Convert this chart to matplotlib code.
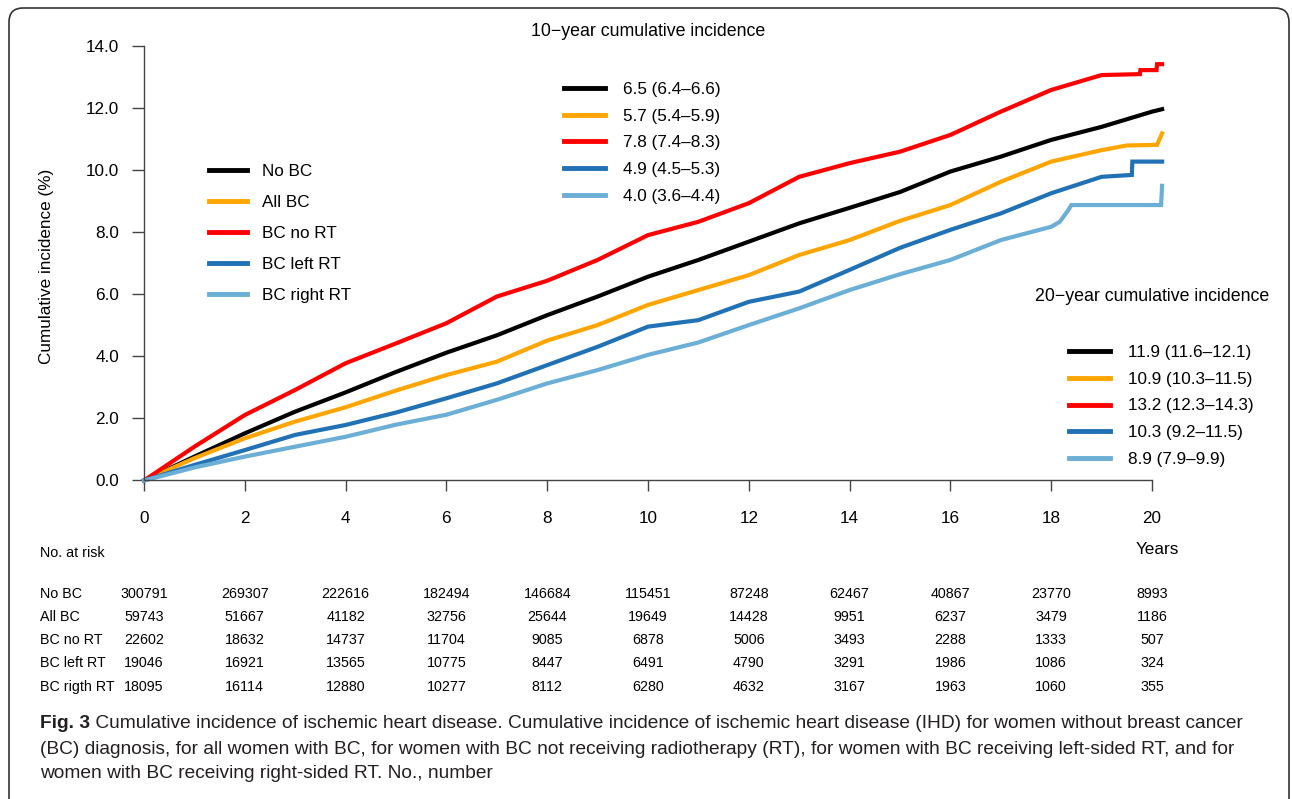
import matplotlib
matplotlib.use('agg')
import matplotlib.pyplot as plt
import matplotlib.transforms as mtransforms
from matplotlib.patches import FancyBboxPatch
from matplotlib import font_manager

plt.rcParams['font.family'] = ['Liberation Sans', 'DejaVu Sans']

W, H = 1292, 799

# ---- data ----
groups = ['No BC', 'All BC', 'BC no RT', 'BC left RT', 'BC right RT']
colors = ['black', '#ffa500', '#ff0000', '#2171b5', '#6baed6']
ci10 = ['6.5 (6.4\u20136.6)', '5.7 (5.4\u20135.9)', '7.8 (7.4\u20138.3)',
        '4.9 (4.5\u20135.3)', '4.0 (3.6\u20134.4)']
ci20 = ['11.9 (11.6\u201312.1)', '10.9 (10.3\u201311.5)', '13.2 (12.3\u201314.3)',
        '10.3 (9.2\u201311.5)', '8.9 (7.9\u20139.9)']

nobc_x = [0, 1, 2, 3, 4, 5, 6, 7, 8, 9, 10, 11, 12, 13, 14, 15, 16, 17, 18, 19, 20, 20.2]
nobc_y = [0, 0.77, 1.52, 2.22, 2.84, 3.5, 4.12, 4.68, 5.33, 5.93, 6.57, 7.11, 7.7,
          8.29, 8.79, 9.3, 9.96, 10.44, 10.98, 11.4, 11.89, 11.97]

allbc_x = [0, 1, 2, 3, 4, 5, 6, 7, 8, 9, 10, 11, 12, 13, 14, 15, 16, 17, 18, 19, 19.5, 20.1, 20.2]
allbc_y = [0, 0.72, 1.36, 1.9, 2.36, 2.9, 3.4, 3.83, 4.51, 5.01, 5.66, 6.14, 6.62,
           7.27, 7.75, 8.37, 8.88, 9.63, 10.28, 10.65, 10.8, 10.82, 11.19]

nort_x = [0, 1, 2, 3, 4, 5, 6, 7, 8, 9, 10, 11, 12, 13, 14, 15, 16, 17, 18, 19,
          19.76, 19.77, 20.09, 20.1, 20.2]
nort_y = [0, 1.09, 2.11, 2.92, 3.78, 4.42, 5.07, 5.93, 6.44, 7.11, 7.91, 8.34, 8.94,
          9.79, 10.23, 10.6, 11.14, 11.89, 12.59, 13.07, 13.1, 13.23, 13.23, 13.42, 13.42]

left_x = [0, 1, 2, 3, 4, 5, 6, 7, 8, 9, 10, 11, 12, 13, 14, 15, 16, 17, 18, 19,
          19.6, 19.61, 20.2]
left_y = [0, 0.5, 0.98, 1.47, 1.79, 2.19, 2.65, 3.13, 3.72, 4.31, 4.96, 5.17, 5.76,
          6.09, 6.79, 7.5, 8.08, 8.61, 9.26, 9.79, 9.85, 10.28, 10.28]

right_x = [0, 1, 2, 3, 4, 5, 6, 7, 8, 9, 10, 11, 12, 13, 14, 15, 16, 17, 18, 18.17,
           18.34, 18.4, 20.18, 20.2]
right_y = [0, 0.42, 0.77, 1.09, 1.41, 1.8, 2.12, 2.6, 3.13, 3.56, 4.05, 4.45, 5.01,
           5.55, 6.14, 6.65, 7.11, 7.75, 8.18, 8.34, 8.72, 8.88, 8.88, 9.5]

risk_years = [0, 2, 4, 6, 8, 10, 12, 14, 16, 18, 20]
risk_labels = ['No BC', 'All BC', 'BC no RT', 'BC left RT', 'BC rigth RT']
risk_nobc = [300791, 269307, 222616, 182494, 146684, 115451, 87248, 62467, 40867, 23770, 8993]
risk_allbc = [59743, 51667, 41182, 32756, 25644, 19649, 14428, 9951, 6237, 3479, 1186]
risk_nort = [22602, 18632, 14737, 11704, 9085, 6878, 5006, 3493, 2288, 1333, 507]
risk_left = [19046, 16921, 13565, 10775, 8447, 6491, 4790, 3291, 1986, 1086, 324]
risk_right = [18095, 16114, 12880, 10277, 8112, 6280, 4632, 3167, 1963, 1060, 355]

caption_bold = 'Fig. 3'
caption_lines = [
    ' Cumulative incidence of ischemic heart disease. Cumulative incidence of ischemic heart disease (IHD) for women without breast cancer',
    '(BC) diagnosis, for all women with BC, for women with BC not receiving radiotherapy (RT), for women with BC receiving left-sided RT, and for',
    'women with BC receiving right-sided RT. No., number',
]


def fx(px):
    return px / W


def fy(py):
    return 1 - py / H


fig = plt.figure(figsize=(W / 100, H / 100), dpi=100)

# outer rounded frame
frame = FancyBboxPatch((9, -30), 1280, 821, boxstyle='round,pad=0,rounding_size=14',
                       transform=mtransforms.IdentityTransform(), fill=False,
                       edgecolor='#333333', linewidth=1.2)
fig.patches.append(frame)

ax = fig.add_axes([fx(144), fy(480.5), 50.4 * 21 / W, (480.5 - 30.7) / H])
ax.set_xlim(0, 21)
ax.set_ylim(0, 14.5)

series = [(nobc_x, nobc_y), (allbc_x, allbc_y), (nort_x, nort_y),
          (left_x, left_y), (right_x, right_y)]
handles = []
for (xs, ys), c in zip(series, colors):
    ln, = ax.plot(xs, ys, color=c, lw=3, solid_joinstyle='miter', clip_on=False)
    handles.append(ln)

for s in ['top', 'right']:
    ax.spines[s].set_visible(False)
ax.spines['left'].set_bounds(0, 14)
ax.spines['bottom'].set_bounds(0, 20)
for s in ['left', 'bottom']:
    ax.spines[s].set_color('#444444')
    ax.spines[s].set_linewidth(1.0)

ax.set_yticks([0, 2, 4, 6, 8, 10, 12, 14])
ax.set_yticklabels(['%.1f' % v for v in [0, 2, 4, 6, 8, 10, 12, 14]])
ax.set_xticks(risk_years)
ax.tick_params(axis='y', length=8.6, width=1, color='#444444', pad=9.4, labelsize=12.3)
ax.tick_params(axis='x', length=8, width=1, color='#444444', pad=14, labelsize=12.3)

fig.text(fx(47), fy(266), 'Cumulative incidence (%)', rotation=90, ha='center',
         va='center', fontsize=12.3)
fig.text(fx(1157), fy(549), 'Years', ha='center', va='center', fontsize=12.3)

# legends
leg1 = ax.legend(handles, groups, loc='upper left', bbox_to_anchor=(1.29, 10.2),
                 bbox_transform=ax.transData, frameon=False, fontsize=12.3,
                 handlelength=2.2, handletextpad=0.88, labelspacing=0.94,
                 borderpad=0, borderaxespad=0)
ax.add_artist(leg1)
leg2 = ax.legend(handles, ci10, loc='upper left', bbox_to_anchor=(8.33, 12.84),
                 bbox_transform=ax.transData, frameon=False, fontsize=12.3,
                 handlelength=2.4, handletextpad=1.06, labelspacing=0.68,
                 borderpad=0, borderaxespad=0)
ax.add_artist(leg2)
ax.legend(handles, ci20, loc='upper left', bbox_to_anchor=(18.35, 4.36),
          bbox_transform=ax.transData, frameon=False, fontsize=12.3,
          handlelength=2.4, handletextpad=1.06, labelspacing=0.68,
          borderpad=0, borderaxespad=0)
for lg in ax.get_legend(), leg1, leg2:
    for l in lg.get_lines():
        l.set_linewidth(3.5)

fig.text(fx(648), fy(32), '10\u2212year cumulative incidence', ha='center',
         va='center', fontsize=12.8)
fig.text(fx(1152), fy(296), '20\u2212year cumulative incidence', ha='center',
         va='center', fontsize=12.8)

# risk table
trans = mtransforms.blended_transform_factory(ax.transData, fig.transFigure)
fig.text(fx(40), fy(553), 'No. at risk', ha='left', va='center', fontsize=10.3)
risk_rows = [risk_nobc, risk_allbc, risk_nort, risk_left, risk_right]
row_y = [594, 617, 640, 663, 687]
for lab, vals, py in zip(risk_labels, risk_rows, row_y):
    fig.text(fx(40), fy(py), lab, ha='left', va='center', fontsize=10.3)
    for yr, v in zip(risk_years, vals):
        ax.text(yr, fy(py), str(v), transform=trans, ha='center', va='center',
                fontsize=10.3)

# caption
names = {f.name for f in font_manager.fontManager.ttflist}
cap_font = ['Liberation Sans Narrow', 'Liberation Sans'] if 'Liberation Sans Narrow' in names \
    else ['Liberation Sans']
cap_col = '#231f20'
fs = 14
tb = fig.text(fx(40), fy(724), caption_bold, ha='left', va='center', fontsize=fs,
              fontweight='bold', family=cap_font, color=cap_col)
tl = [fig.text(fx(40), fy(py), s, ha='left', va='center', fontsize=fs,
               family=cap_font, color=cap_col)
      for s, py in zip(caption_lines, [724, 749, 773])]
fig.canvas.draw()
r = fig.canvas.get_renderer()
w = tb.get_window_extent(r).width + tl[0].get_window_extent(r).width
fs = fs * 1210 / w
tb.set_fontsize(fs)
for t in tl:
    t.set_fontsize(fs)
fig.canvas.draw()
bw = tb.get_window_extent(r).width
tl[0].set_x(fx(40 + bw))

fig.savefig('out.png', dpi=100)
